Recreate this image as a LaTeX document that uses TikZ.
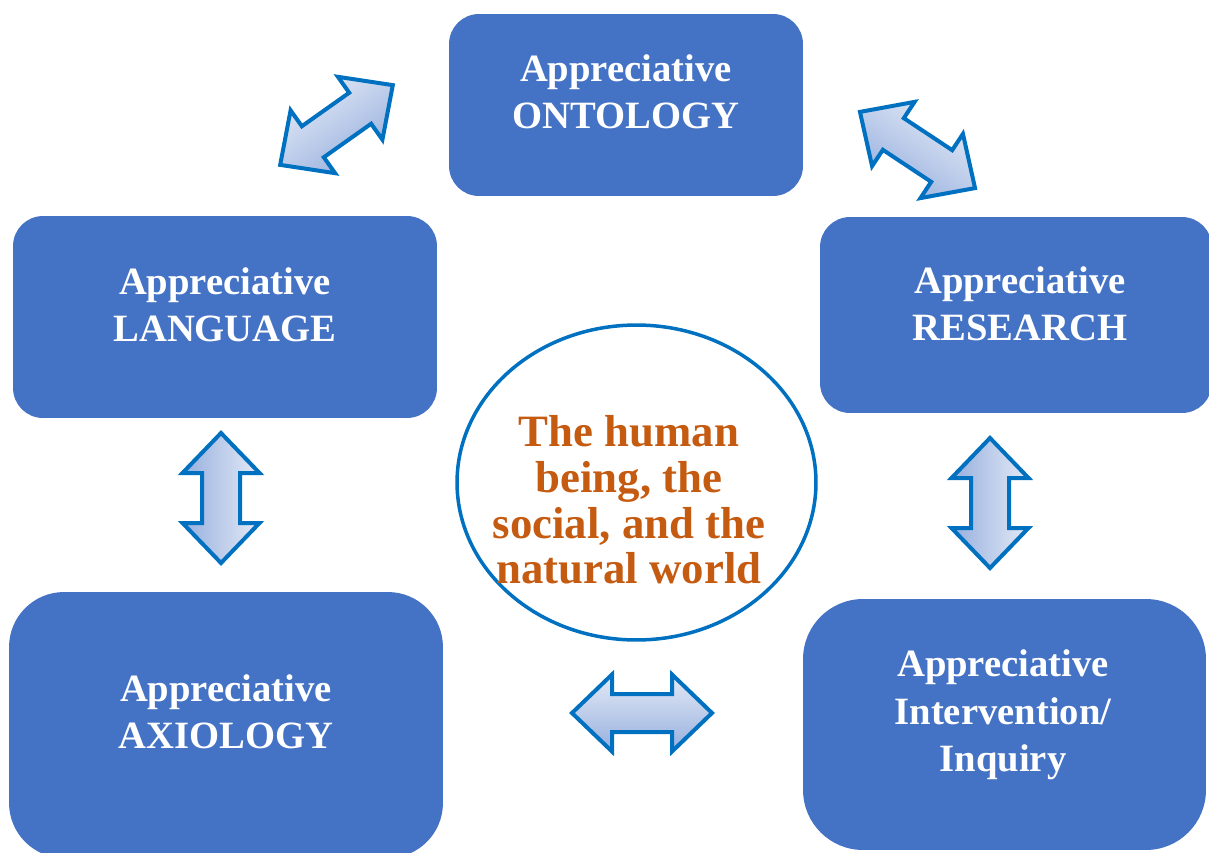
\documentclass[tikz,border=0pt]{standalone}
\usepackage{fontspec}
\setmainfont{Liberation Serif}
\usetikzlibrary{shapes.geometric}

\definecolor{boxblue}{HTML}{4472C4}
\definecolor{lineblue}{HTML}{0070C0}
\definecolor{arrlight}{RGB}{228,234,246}
\definecolor{arrdark}{RGB}{150,175,222}
\definecolor{coreorange}{HTML}{C55A11}

\tikzset{
  apbox/.style={fill=boxblue, rounded corners=0.6cm, inner sep=0pt},
  aptext/.style={text=white, font=\fontsize{22}{27}\selectfont\bfseries, align=center},
  coretext/.style={text=coreorange, font=\fontsize{25.5}{26}\selectfont\bfseries, align=center},
  arrowbox/.style={draw=lineblue, line width=0.08cm, top color=arrlight, bottom color=arrdark},
  pics/dblarrow/.style n args={2}{code={
    \draw[arrowbox, shading angle=#2] (-#1/2,0) -- (-#1/2+40,38.5) -- (-#1/2+40,19)
      -- (#1/2-40,19) -- (#1/2-40,38.5) -- (#1/2,0) -- (#1/2-40,-38.5) -- (#1/2-40,-19)
      -- (-#1/2+40,-19) -- (-#1/2+40,-38.5) -- cycle;
  }},
}

\begin{document}
\begin{tikzpicture}[x=0.02cm, y=-0.02cm]
\useasboundingbox (0,0) rectangle (1209,852);
\clip (0,0) rectangle (1209,852);

% Boxes
\node[apbox, minimum width=7.08cm, minimum height=3.64cm] (onto) at (626,105) {};
\node[apbox, minimum width=8.48cm, minimum height=4.04cm] (lang) at (225,317) {};
\node[apbox, minimum width=7.84cm, minimum height=3.92cm] (rese) at (1016,315) {};
\node[apbox, rounded corners=1.1cm, minimum width=8.68cm, minimum height=5.32cm] (axio) at (226,725) {};
\node[apbox, rounded corners=1.2cm, minimum width=8.06cm, minimum height=5.02cm] (inte) at (1004.5,724.5) {};

% Labels
\node[aptext] (onto-t) at (626,92) {Appreciative\\ONTOLOGY};
\node[aptext] (lang-t) at (225,304.5) {Appreciative\\LANGUAGE};
\node[aptext] (rese-t) at (1020,303.5) {Appreciative\\RESEARCH};
\node[aptext] (axio-t) at (226,712) {Appreciative\\AXIOLOGY};
\node[aptext] (inte-t) at (1003,715) {Appreciative\\Intervention/\\Inquiry};

% Centre
\node[ellipse, draw=lineblue, line width=0.07cm, fill=white, inner sep=0pt,
      minimum width=7.18cm, minimum height=6.3cm] (core) at (636.5,482.5) {};
\node[coretext] (core-t) at (629,500) {The human\\being, the\\social, and the\\natural world};

% Double arrows
\pic[rotate=35.3] (arr-onto-lang) at (336.5,125) {dblarrow={138}{35.3}};
\pic[rotate=-33.5] (arr-onto-rese) at (917.5,150) {dblarrow={138}{-33.5}};
\pic[rotate=90] (arr-lang-axio) at (221,498) {dblarrow={130}{-90}};
\pic[rotate=90] (arr-rese-inte) at (990,503) {dblarrow={130}{-90}};
\pic (arr-axio-inte) at (642,713) {dblarrow={140}{0}};
\end{tikzpicture}
\end{document}
